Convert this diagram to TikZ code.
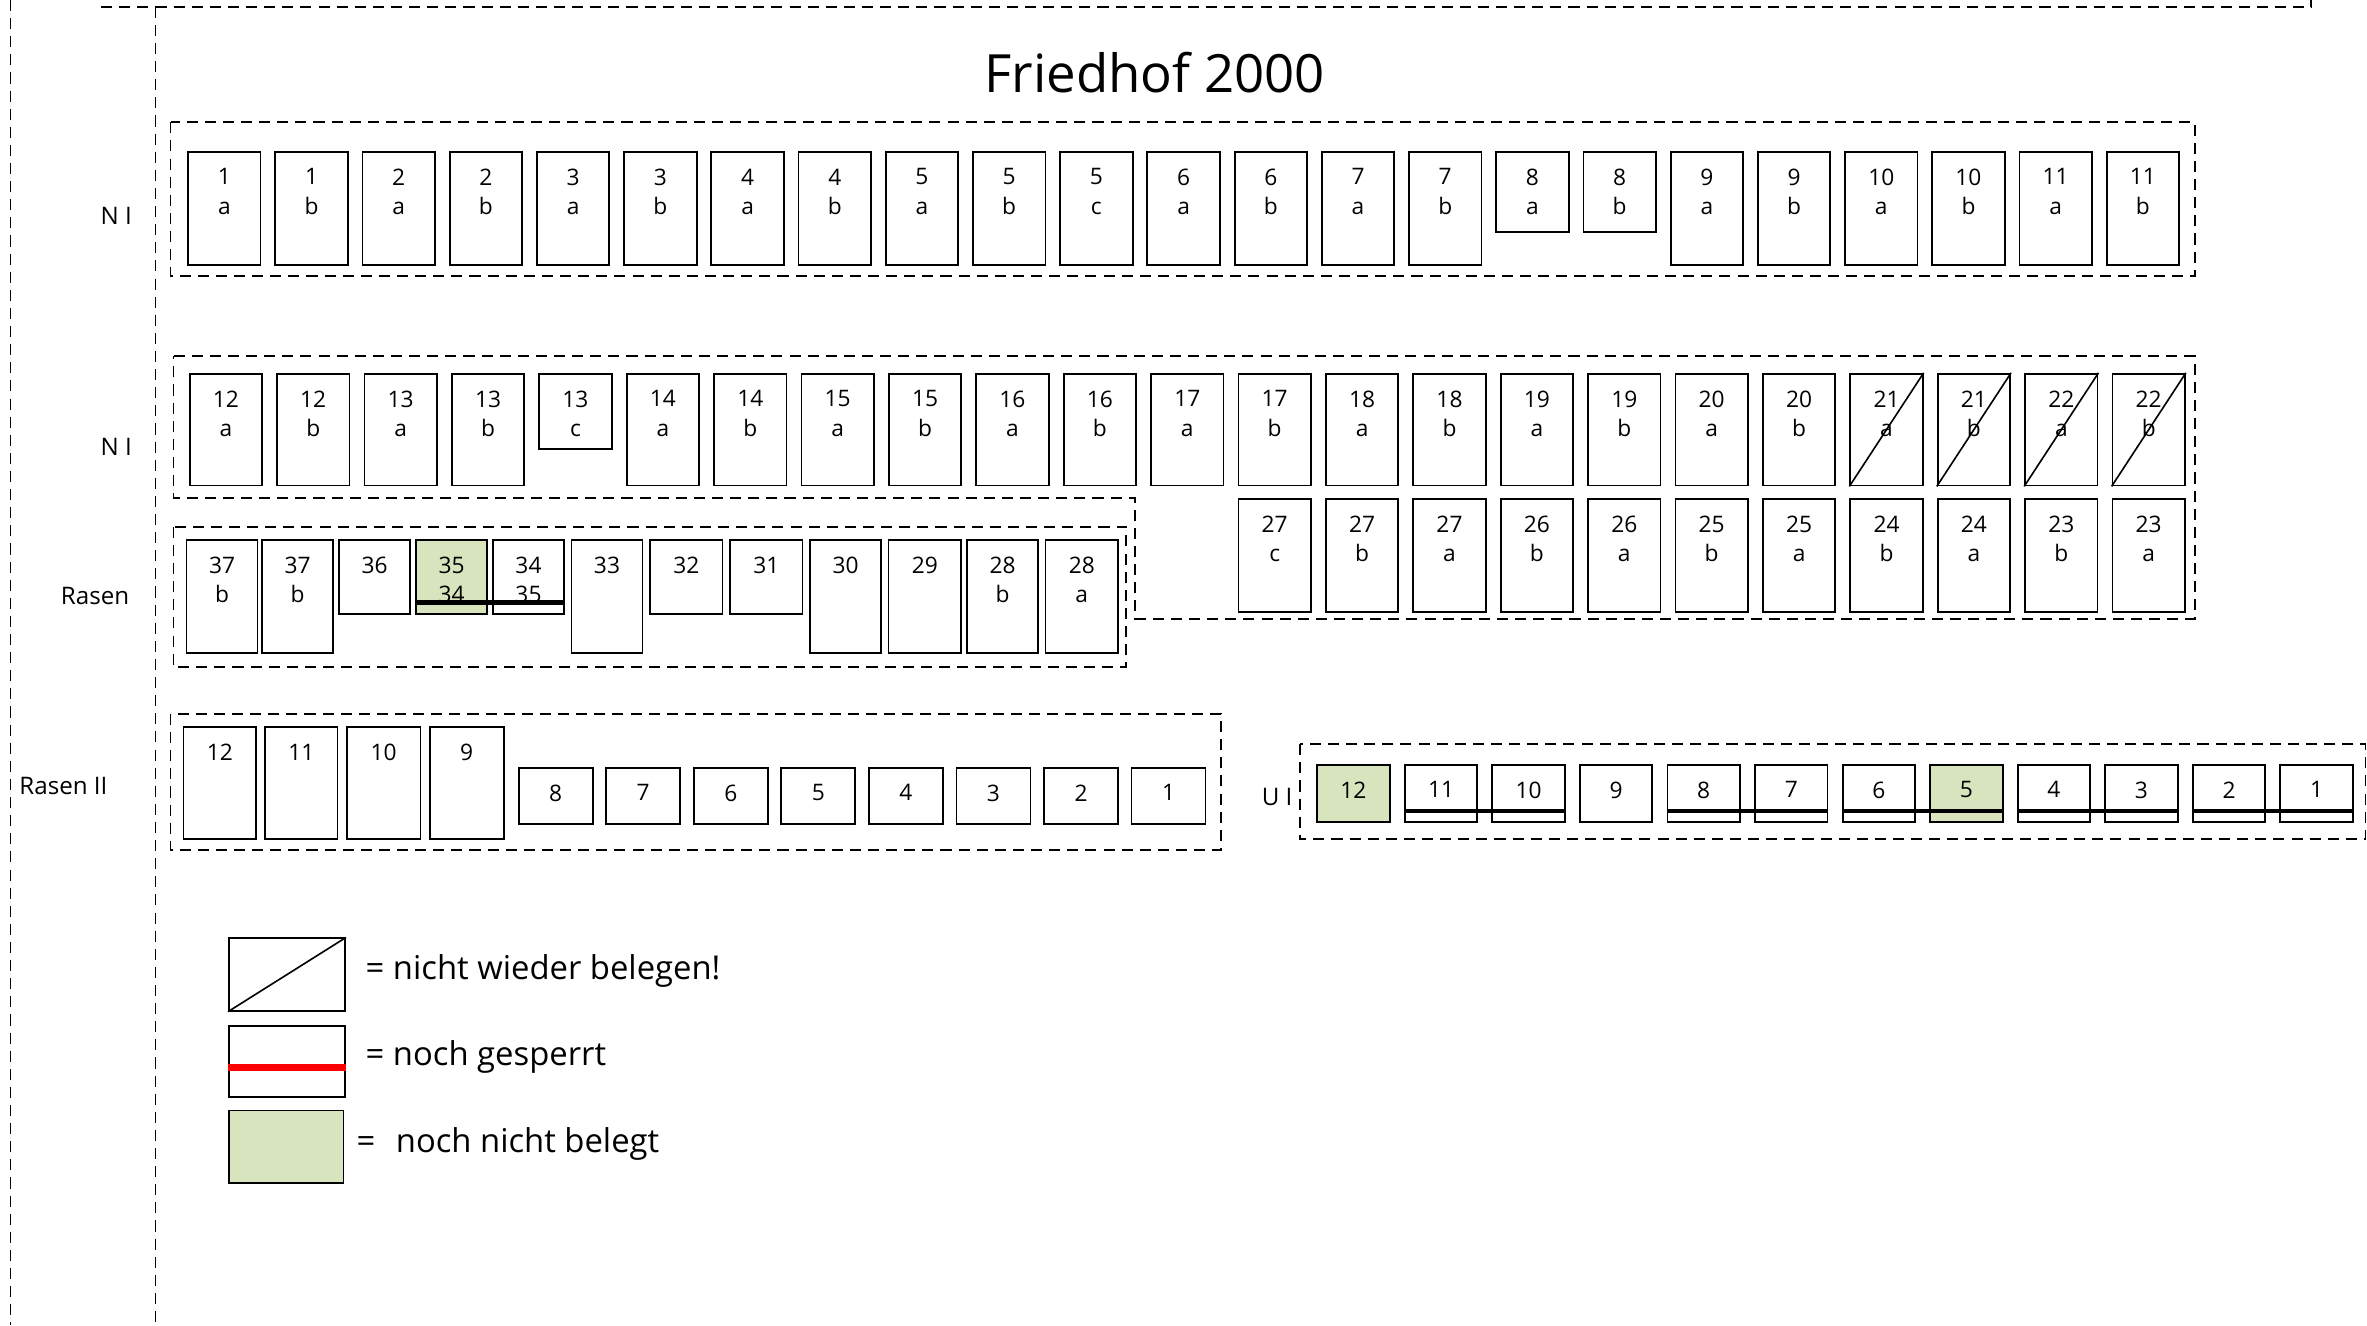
\documentclass[tikz,border=0pt]{standalone}
\usepackage{fontspec}
\setmainfont{Open Sans}
\definecolor{gruen}{RGB}{215,228,189}
\newcommand\gp[7]{%
  \node[pbox, fill=#7, minimum width=#4*0.75pt, minimum height=#5*0.75pt] (#1) at (#2,#3) {};
  \node[ptxt] (#1t) at ([yshift=-11.5*0.75pt]#1.north) {#6};
}
\begin{document}
\begin{tikzpicture}[x=0.75pt,y=-0.75pt,
  dashln/.style={line width=0.85pt, dash pattern=on 5.5pt off 3.5pt},
  pbox/.style={draw, line width=0.9pt, rectangle, inner sep=0pt, anchor=north west},
  ptxt/.style={font=\fontsize{11.3}{14.5}\selectfont, align=center, inner sep=0pt, anchor=north},
  sperr/.style={line width=2.3pt},
  lbl/.style={font=\fontsize{12}{14}\selectfont, inner sep=0pt},
  leg/.style={font=\fontsize{16.3}{19}\selectfont, inner sep=0pt, anchor=west}]
\useasboundingbox (0,0) rectangle (1568,878);

% frame lines
\draw[dashln] (67,4.5) -- (1531,4.5) -- (1531,0);
\draw[dashln] (103,4.5) -- (103,878);
\draw[dashln] (7,0) -- (7,878);

% title
\node[font=\fontsize{26.2}{30}\selectfont, inner sep=0pt] (title) at (765,48) {Friedhof 2000};

% group frames
\draw[dashln] (113,81) rectangle (1454,183);
\draw[dashln] (115,236) -- (1454,236) -- (1454,410) -- (752,410) -- (752,330) -- (115,330) -- cycle;
\draw[dashln] (115,349) rectangle (746,442);
\draw[dashln] (113,473) rectangle (809,563);
\draw[dashln] (861,493) rectangle (1567,556);

% labels
\node[lbl] (lNI1) at (77,143) {N I};
\node[lbl] (lNI2) at (77,296) {N I};
\node[lbl] (lRa) at (63,395) {Rasen};
\node[lbl] (lRaII) at (42,521) {Rasen II};
\node[lbl] (lUI) at (846,528) {U I};

% row 1 (N I)
\foreach [count=\i from 0] \n/\l/\h in {1/a/75,1/b/75,2/a/75,2/b/75,3/a/75,3/b/75,4/a/75,4/b/75,5/a/75,5/b/75,5/c/75,6/a/75,6/b/75,7/a/75,7/b/75,8/a/53,8/b/53,9/a/75,9/b/75,10/a/75,10/b/75,11/a/75,11/b/75}{
  \pgfmathsetmacro\xx{124+\i*57.77}
  \gp{A\i}{\xx}{100}{48}{\h}{\n\\\l}{white}
}

% row 2 (N I)
\foreach [count=\i from 0] \n/\l/\h in {12/a/74,12/b/74,13/a/74,13/b/74,13/c/50,14/a/74,14/b/74,15/a/74,15/b/74,16/a/74,16/b/74,17/a/74,17/b/74,18/a/74,18/b/74,19/a/74,19/b/74,20/a/74,20/b/74,21/a/74,21/b/74,22/a/74,22/b/74}{
  \pgfmathsetmacro\xx{125+\i*57.9}
  \gp{B\i}{\xx}{247}{48}{\h}{\n\\\l}{white}
}
\foreach \i in {19,20,21,22}{
  \draw[line width=0.8pt] (B\i.south west) -- (B\i.north east);
}

% row 3 right part
\foreach [count=\i from 12] \n/\l in {27/c,27/b,27/a,26/b,26/a,25/b,25/a,24/b,24/a,23/b,23/a}{
  \pgfmathsetmacro\xx{125+\i*57.9}
  \gp{C\i}{\xx}{330}{48}{75}{\n\\\l}{white}
}

% Rasen
\gp{R1}{123}{357}{47}{75}{37\\b}{white}
\gp{R2}{173}{357}{47}{75}{37\\b}{white}
\gp{R3}{224}{357}{47}{49}{36}{white}
\gp{R4}{275}{357}{47}{49}{35\\34}{gruen}
\gp{R5}{326}{357}{47}{49}{34\\35}{white}
\gp{R6}{378}{357}{47}{75}{33}{white}
\gp{R7}{430}{357}{48}{49}{32}{white}
\gp{R8}{483}{357}{48}{49}{31}{white}
\gp{R9}{536}{357}{47}{75}{30}{white}
\gp{R10}{588}{357}{48}{75}{29}{white}
\gp{R11}{640}{357}{47}{75}{28\\b}{white}
\gp{R12}{692}{357}{48}{75}{28\\a}{white}
\draw[sperr] ([yshift=6pt]R4.south west) -- ([yshift=6pt]R5.south east);

% Rasen II
\gp{S12}{121}{481}{48}{74}{12}{white}
\gp{S11}{175}{481}{48}{74}{11}{white}
\gp{S10}{229}{481}{49}{74}{10}{white}
\gp{S9}{284}{481}{49}{74}{9}{white}
\foreach [count=\i from 0] \n in {8,7,6,5,4,3,2,1}{
  \pgfmathsetmacro\xx{343+\i*58}
  \gp{S\n}{\xx}{508}{49}{37}{\n}{white}
}

% U I
\foreach [count=\i from 0] \n/\f in {12/gruen,11/white,10/white,9/white,8/white,7/white,6/white,5/gruen,4/white,3/white,2/white,1/white}{
  \pgfmathsetmacro\xx{872+\i*58}
  \gp{U\n}{\xx}{506}{48}{38}{\n}{\f}
}
\draw[sperr] ([yshift=6pt]U11.south west) -- ([yshift=6pt]U10.south east);
\draw[sperr] ([yshift=6pt]U8.south west) -- ([yshift=6pt]U7.south east);
\draw[sperr] ([yshift=6pt]U6.south west) -- ([yshift=6pt]U5.south east);
\draw[sperr] ([yshift=6pt]U4.south west) -- ([yshift=6pt]U3.south east);
\draw[sperr] ([yshift=6pt]U2.south west) -- ([yshift=6pt]U1.south east);

% legend
\node[pbox, minimum width=77*0.75pt, minimum height=48*0.75pt] (L1) at (151,621) {};
\draw[line width=0.8pt] (L1.south west) -- (L1.north east);
\node[leg] (L1t) at (242,643) {= nicht wieder belegen!};
\node[pbox, minimum width=77*0.75pt, minimum height=47*0.75pt] (L2) at (151,679) {};
\draw[red, line width=3.6pt] ([yshift=15pt]L2.south west) -- ([yshift=15pt]L2.south east);
\node[leg] (L2t) at (242,700) {= noch gesperrt};
\node[pbox, fill=gruen, minimum width=76*0.75pt, minimum height=48*0.75pt] (L3) at (151,735) {};
\node[leg] (L3a) at (236,758) {=};
\node[leg] (L3t) at (262,758) {noch nicht belegt};
\end{tikzpicture}
\end{document}
